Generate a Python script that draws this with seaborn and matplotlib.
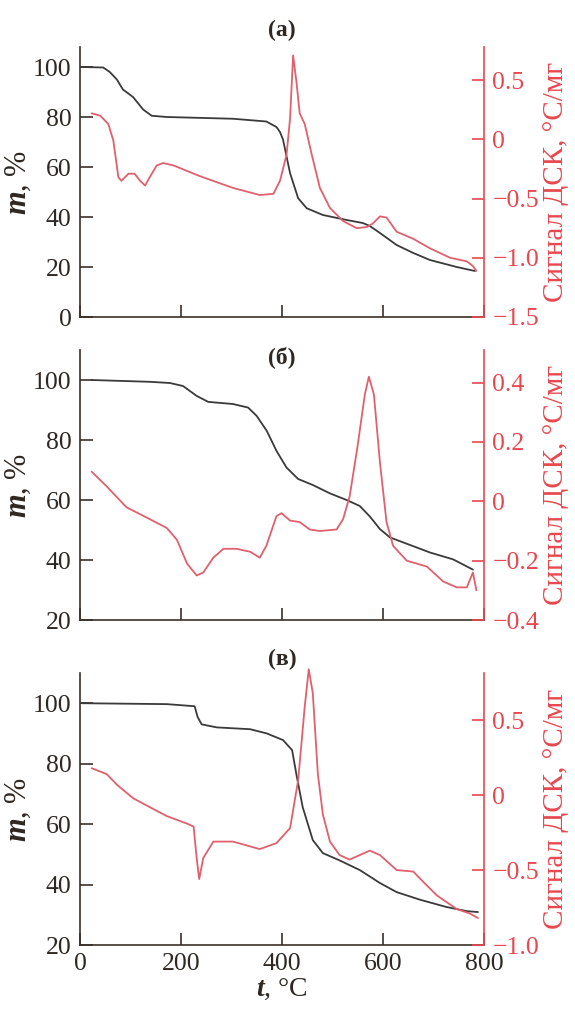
import matplotlib
matplotlib.use("Agg")
import matplotlib.pyplot as plt
import seaborn as sns
import pandas as pd

# ---------------- data ----------------
A_t_mass = [4, 46, 59, 73, 85, 105, 125, 142, 172, 303, 369, 389, 396, 402, 416, 432, 449, 481, 528, 560, 574, 594, 627, 660, 693, 746, 782]
A_mass = [100, 99.8, 98, 95, 91, 88, 83, 80.5, 80, 79.3, 78.2, 76, 74, 71, 57.5, 47.5, 43.5, 40.8, 38.8, 37.6, 36.4, 33.6, 28.8, 25.6, 22.8, 20, 18.4]
A_t_dsc = [23, 40, 56, 66, 76, 82, 96, 108, 119, 129, 138, 152, 165, 185, 237, 303, 356, 383, 396, 409, 416, 422, 429, 435, 445, 459, 475, 495, 521, 548, 568, 580, 594, 607, 627, 660, 693, 733, 766, 778, 785]
A_dsc = [0.22, 0.2, 0.13, -0.01, -0.32, -0.35, -0.29, -0.29, -0.35, -0.39, -0.32, -0.22, -0.2, -0.22, -0.31, -0.41, -0.47, -0.46, -0.35, -0.13, 0.18, 0.71, 0.47, 0.22, 0.13, -0.13, -0.41, -0.58, -0.69, -0.75, -0.74, -0.71, -0.65, -0.66, -0.78, -0.84, -0.92, -1.0, -1.03, -1.07, -1.11]

B_t_mass = [23, 138, 178, 204, 231, 254, 303, 333, 350, 370, 389, 409, 432, 461, 495, 528, 554, 574, 594, 614, 660, 693, 739, 778]
B_mass = [100, 99.4, 99, 98, 94.7, 92.7, 92, 90.8, 88, 83, 76.4, 70.8, 67, 65, 62.2, 60, 58, 54.5, 50.3, 47.5, 44.6, 42.5, 40.2, 36.8]
B_t_dsc = [23, 53, 92, 138, 172, 192, 212, 231, 244, 264, 284, 310, 337, 356, 369, 389, 399, 416, 435, 455, 475, 508, 521, 534, 550, 564, 572, 582, 594, 607, 620, 647, 687, 719, 746, 766, 778, 785]
B_dsc = [0.10, 0.05, -0.02, -0.06, -0.09, -0.13, -0.21, -0.25, -0.24, -0.19, -0.16, -0.16, -0.17, -0.19, -0.15, -0.05, -0.04, -0.065, -0.07, -0.095, -0.10, -0.095, -0.06, 0.017, 0.19, 0.36, 0.42, 0.36, 0.13, -0.07, -0.15, -0.2, -0.22, -0.27, -0.29, -0.29, -0.24, -0.30]

C_t_mass = [4, 172, 227, 233, 241, 271, 337, 370, 402, 420, 429, 441, 461, 481, 514, 554, 594, 627, 673, 725, 766, 788]
C_mass = [100, 99.7, 99, 95.4, 93, 92, 91.4, 90, 87.8, 84.5, 76, 65.6, 54.7, 50.4, 48, 44.8, 40.5, 37.5, 35, 32.6, 31.2, 30.9]
C_t_dsc = [23, 53, 73, 105, 138, 172, 212, 225, 231, 236, 244, 264, 303, 356, 389, 416, 432, 445, 453, 461, 471, 481, 495, 514, 534, 554, 574, 594, 627, 660, 680, 707, 746, 772, 788]
C_dsc = [0.18, 0.14, 0.07, -0.02, -0.08, -0.14, -0.19, -0.21, -0.42, -0.56, -0.42, -0.31, -0.31, -0.36, -0.32, -0.22, 0.1, 0.59, 0.84, 0.68, 0.14, -0.13, -0.31, -0.40, -0.43, -0.40, -0.37, -0.40, -0.50, -0.51, -0.58, -0.67, -0.76, -0.79, -0.82]

panel_titles = ["(а)", "(б)", "(в)"]
x_ticks = [0, 200, 400, 600, 800]
left_ticks = [[0, 20, 40, 60, 80, 100], [20, 40, 60, 80, 100], [20, 40, 60, 80, 100]]
left_lims = [(0, 108), (20, 110), (20, 110)]
right_ticks = [[-1.5, -1.0, -0.5, 0, 0.5], [-0.4, -0.2, 0, 0.2, 0.4], [-1.0, -0.5, 0, 0.5]]
right_labels = [["−1.5", "−1.0", "−0.5", "0", "0.5"], ["−0.4", "−0.2", "0", "0.2", "0.4"], ["−1.0", "−0.5", "0", "0.5"]]
right_lims = [(-1.5, 0.78), (-0.4, 0.51), (-1.0, 0.815)]

# ---------------- style ----------------
sns.set_theme(style="white")
plt.rcParams['font.family'] = ['Liberation Serif', 'DejaVu Serif']
plt.rcParams['mathtext.fontset'] = 'custom'
plt.rcParams['mathtext.it'] = 'Liberation Serif:italic:bold'
plt.rcParams['mathtext.rm'] = 'Liberation Serif'

DARK = "#2e2722"
SPINE = "#3b3128"
RED = "#e8474f"
REDLINE = "#e0606e"
GREY = "#3a3a3a"
TICK_FS = 18.5

fig = plt.figure(figsize=(5.75, 10.13), dpi=100)
left = 80 / 575
width = (484 - 80) / 575
H = 1013
boxes = [(47, 317), (350, 620), (673, 945)]
title_y = [1.063, 0.974, 1.048]

mass_data = [(A_t_mass, A_mass), (B_t_mass, B_mass), (C_t_mass, C_mass)]
dsc_data = [(A_t_dsc, A_dsc), (B_t_dsc, B_dsc), (C_t_dsc, C_dsc)]

for i in range(3):
    top, bot = boxes[i]
    ax = fig.add_axes([left, 1 - bot / H, width, (bot - top) / H])
    ax2 = ax.twinx()

    dm = pd.DataFrame({"t": mass_data[i][0], "m": mass_data[i][1]})
    dd = pd.DataFrame({"t": dsc_data[i][0], "v": dsc_data[i][1]})
    sns.lineplot(data=dm, x="t", y="m", ax=ax, color=GREY, lw=1.3, sort=False, estimator=None)
    sns.lineplot(data=dd, x="t", y="v", ax=ax2, color=REDLINE, lw=1.3, sort=False, estimator=None)
    for ln in ax2.lines:
        ln.set_clip_on(False)

    ax.set_xlim(0, 800)
    ax.set_ylim(*left_lims[i])
    ax2.set_ylim(*right_lims[i])
    ax.set_xticks(x_ticks)
    ax.set_yticks(left_ticks[i])
    ax2.set_yticks(right_ticks[i])
    ax2.set_yticklabels(right_labels[i])

    for s in ["top", "right"]:
        ax.spines[s].set_visible(False)
    for s in ["top", "left", "bottom"]:
        ax2.spines[s].set_visible(False)
    ax.spines["left"].set_color(SPINE)
    ax.spines["bottom"].set_color(SPINE)
    ax.spines["left"].set_linewidth(1.2)
    ax.spines["bottom"].set_linewidth(1.2)
    ax2.spines["right"].set_visible(True)
    ax2.spines["right"].set_color(RED)
    ax2.spines["right"].set_linewidth(1.2)

    ax.tick_params(axis="both", direction="in", length=9, width=1.2, color=SPINE,
                   labelsize=TICK_FS, labelcolor=DARK, pad=6)
    ax.tick_params(axis="x", bottom=True)
    ax.tick_params(axis="y", left=True)
    ax2.tick_params(axis="y", direction="in", length=9, width=1.2, color=RED,
                    labelsize=TICK_FS, labelcolor=RED, pad=6, right=True)

    ax.set_ylabel(r"$m$, %", fontsize=22, color=DARK, labelpad=0)
    ax2.set_ylabel("Сигнал ДСК, °C/мг", fontsize=21, color=RED, labelpad=3)

    if i < 2:
        ax.set_xlabel("")
        ax.tick_params(axis="x", labelbottom=False)
    else:
        ax.set_xlabel(r"$t$, °C", fontsize=20, color=DARK, labelpad=1)

    ax.text(0.5, title_y[i], panel_titles[i], transform=ax.transAxes, ha="center",
            va="center", fontsize=17, fontweight="bold", color=DARK)

fig.savefig("out.png", dpi=100)
